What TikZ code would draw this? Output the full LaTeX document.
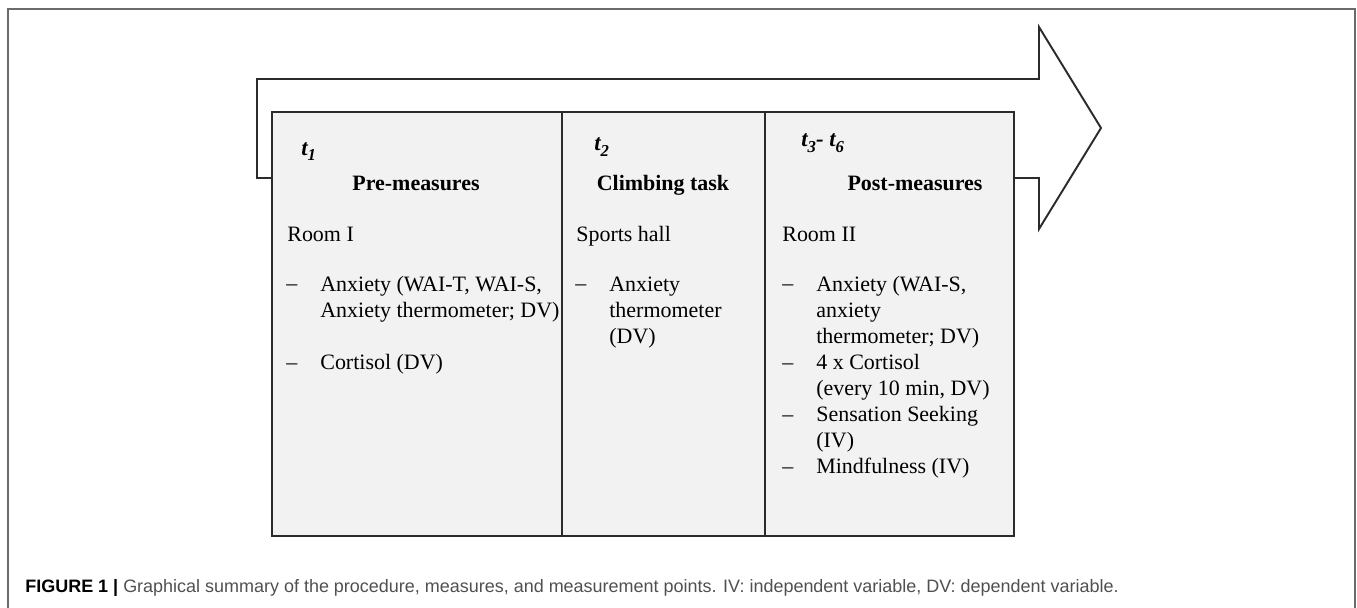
\documentclass[tikz,border=0pt]{standalone}
\usepackage{fontspec}
\setmainfont{Liberation Serif}
\setsansfont{Liberation Sans}

\definecolor{framegray}{HTML}{6B6B6B}
\definecolor{linedark}{HTML}{2B2B2B}
\definecolor{cellfill}{HTML}{F2F2F2}
\definecolor{captiongray}{HTML}{505050}

\newcommand{\tsub}[1]{\raisebox{-0.5ex}{\fontsize{9.5}{9.5}\selectfont #1}}

\tikzset{
  celltext/.style={anchor=base west, inner sep=0pt, align=left,
    font=\fontsize{12.5}{14.74}\selectfont},
  cellhead/.style={anchor=base, inner sep=0pt,
    font=\fontsize{12.5}{14.74}\selectfont\bfseries},
  timelabel/.style={anchor=base west, inner sep=0pt,
    font=\fontsize{13}{14.74}\selectfont\bfseries\itshape},
  cellbox/.style={draw=linedark, fill=cellfill, line width=0.9pt}
}

\begin{document}
\begin{tikzpicture}[x=0.02cm, y=-0.02cm]
  \useasboundingbox (0,0) rectangle (1357,608);
  % outer frame
  \draw[framegray, line width=0.8pt] (8,608) -- (8,9) -- (1355,9) -- (1355,608);
  % time arrow
  \draw[linedark, line width=1.1pt, line join=miter]
    (257,79) -- (1039,79) -- (1039,27) -- (1101,128) -- (1039,229)
    -- (1039,178) -- (257,178) -- cycle;
  % the three phases
  \draw[cellbox] (272,112) rectangle (562,536);
  \draw[cellbox] (562,112) rectangle (765,536);
  \draw[cellbox] (765,112) rectangle (1014,536);
  \draw[linedark, line width=1.1pt] (272,536) -- (1014,536) -- (1014,112);
  \draw[linedark, line width=1.1pt] (272,536) -- (272,112);

  % pre-measures (multi-line nodes sit on their last line)
  \node[timelabel] (tpre) at (301,155) {t\tsub{1}};
  \node[cellhead] (pre) at (416,191) {Pre-measures};
  \node[celltext] (roomone) at (287,241) {Room I};
  \node[celltext] (predasha) at (286,291) {--};
  \node[celltext] (preanx) at (320,317) {Anxiety (WAI-T, WAI-S,\\Anxiety thermometer; DV)};
  \node[celltext] (predashb) at (286,369) {--};
  \node[celltext] (precort) at (320,369) {Cortisol (DV)};

  % climbing task
  \node[timelabel] (tclimb) at (594,151) {t\tsub{2}};
  \node[cellhead] (climb) at (663,191) {Climbing task};
  \node[celltext] (hall) at (576,241) {Sports hall};
  \node[celltext] (climbdash) at (575,291) {--};
  \node[celltext] (climbanx) at (609,343) {Anxiety\\thermometer\\(DV)};

  % post-measures
  \node[timelabel] (tpost) at (801,147) {t\tsub{3}- t\tsub{6}};
  \node[cellhead] (post) at (915,191) {Post-measures};
  \node[celltext] (roomtwo) at (782,241) {Room II};
  \node[celltext] (postdasha) at (782,291) {--};
  \node[celltext] (postanx) at (816,343) {Anxiety (WAI-S,\\anxiety\\thermometer; DV)};
  \node[celltext] (postdashb) at (782,369) {--};
  \node[celltext] (postcort) at (816,395) {4 x Cortisol\\(every 10 min, DV)};
  \node[celltext] (postdashc) at (782,421) {--};
  \node[celltext] (postseek) at (816,447) {Sensation Seeking\\(IV)};
  \node[celltext] (postdashd) at (782,473) {--};
  \node[celltext] (postmind) at (816,473) {Mindfulness (IV)};

  % caption
  \node[anchor=base west, inner sep=0pt, font=\sffamily\fontsize{10.23}{12}\selectfont]
    (caption) at (25,592)
    {\textbf{FIGURE 1 |} \textcolor{captiongray}{Graphical summary of the procedure, measures, and measurement points. IV: independent variable, DV: dependent variable.}};
\end{tikzpicture}
\end{document}
